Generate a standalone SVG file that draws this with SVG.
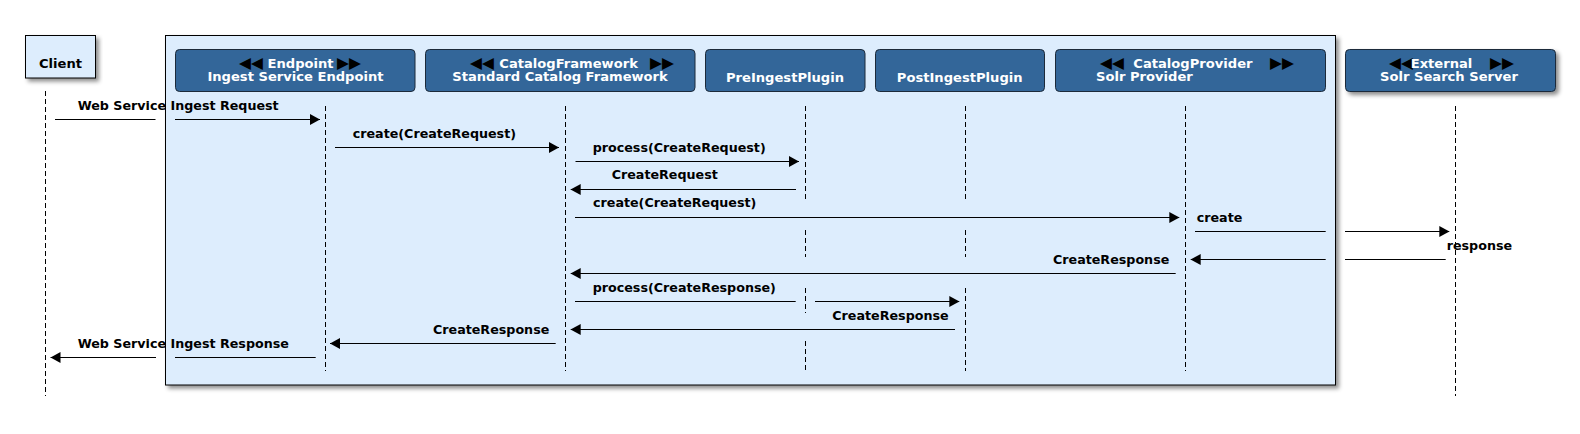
<svg xmlns="http://www.w3.org/2000/svg" width="1580" height="434" viewBox="0 0 1580 434">
<style>
.lbl{font-family:"DejaVu Sans","Liberation Sans",sans-serif;font-weight:bold;font-size:12.7px;fill:#000}
.hdr{font-family:"DejaVu Sans","Liberation Sans",sans-serif;font-weight:bold;font-size:13.1px;fill:#fff}
.tri{fill:#000;font-weight:normal;font-size:15.5px}
.box{fill:#336699;stroke:#1c2a3a;stroke-width:1}
.life{stroke:#000;stroke-width:1;stroke-dasharray:5,3;fill:none}
.msg{stroke:#000;stroke-width:1;fill:none}
.arr{stroke:#000;stroke-width:1;fill:none;marker-end:url(#ah)}
</style>
<defs>
<filter id="sh" x="-5%" y="-5%" width="115%" height="125%">
<feDropShadow dx="3" dy="3" stdDeviation="2" flood-color="#000" flood-opacity="0.45"/>
</filter>
<marker id="ah" markerUnits="userSpaceOnUse" markerWidth="10" markerHeight="12" refX="10" refY="6" orient="auto">
<path d="M0,0.5 L10,6 L0,11.5 z" fill="#000"/>
</marker>
</defs>
<rect x="0" y="0" width="1580" height="434" fill="#fff"/>
<g id="frame">
<rect x="165.5" y="35.5" width="1170" height="349.5" fill="#ddedfd" stroke="#000" stroke-width="1" filter="url(#sh)"/>
</g>
<g id="client">
<rect x="25.5" y="35.5" width="70" height="42.5" fill="#ddedfd" stroke="#000" stroke-width="1" filter="url(#sh)"/>
<text class="lbl" style="font-size:13.1px" x="60.5" y="67.5" text-anchor="middle">Client</text>
<line class="life" x1="45.5" y1="91" x2="45.5" y2="396"/>
</g>
<g id="endpoint">
<rect class="box" x="175.5" y="49.5" width="239.5" height="42" rx="4"/>
<text class="hdr" y="68"><tspan class="tri" x="239">◀◀</tspan><tspan x="267.5">Endpoint</tspan><tspan class="tri" x="337">▶▶</tspan></text>
<text class="hdr" x="295.5" y="81" text-anchor="middle">Ingest Service Endpoint</text>
<line class="life" x1="325.5" y1="106" x2="325.5" y2="371"/>
</g>
<g id="catalogframework">
<rect class="box" x="425.5" y="49.5" width="269.5" height="42" rx="4"/>
<text class="hdr" y="68"><tspan class="tri" x="470">◀◀</tspan><tspan x="499.3">CatalogFramework</tspan><tspan class="tri" x="650">▶▶</tspan></text>
<text class="hdr" x="560" y="81" text-anchor="middle">Standard Catalog Framework</text>
<line class="life" x1="565.5" y1="106" x2="565.5" y2="371"/>
</g>
<g id="preingest">
<rect class="box" x="705.5" y="49.5" width="159.5" height="42" rx="4"/>
<text class="hdr" x="785" y="81.5" text-anchor="middle">PreIngestPlugin</text>
<path class="life" d="M805.5,106 V200 M805.5,230 V257 M805.5,288 V313 M805.5,341 V371"/>
</g>
<g id="postingest">
<rect class="box" x="875.5" y="49.5" width="169" height="42" rx="4"/>
<text class="hdr" x="959.7" y="81.5" text-anchor="middle">PostIngestPlugin</text>
<path class="life" d="M965.5,106 V200 M965.5,230 V257 M965.5,288 V371"/>
</g>
<g id="catalogprovider">
<rect class="box" x="1055.5" y="49.5" width="270" height="42" rx="4"/>
<text class="hdr" y="68"><tspan class="tri" x="1100">◀◀</tspan><tspan x="1133.3">CatalogProvider</tspan><tspan class="tri" x="1270">▶▶</tspan></text>
<text class="hdr" x="1096" y="81">Solr Provider</text>
<line class="life" x1="1185.5" y1="106" x2="1185.5" y2="371"/>
</g>
<g id="external">
<rect class="box" x="1345.5" y="49.5" width="210" height="42" rx="4" filter="url(#sh)"/>
<text class="hdr" y="68"><tspan class="tri" x="1389">◀◀</tspan><tspan x="1410.7">External</tspan><tspan class="tri" x="1490">▶▶</tspan></text>
<text class="hdr" x="1449" y="81" text-anchor="middle">Solr Search Server</text>
<line class="life" x1="1455.5" y1="106" x2="1455.5" y2="396"/>
</g>
<g id="connectors">
<line class="msg" x1="55" y1="119.5" x2="155.5" y2="119.5"/>
<line class="arr" x1="175" y1="119.5" x2="320" y2="119.5"/>
<text class="lbl" x="77.7" y="110">Web Service Ingest Request</text>

<line class="arr" x1="335" y1="147.5" x2="559" y2="147.5"/>
<text class="lbl" x="352.7" y="137.5">create(CreateRequest)</text>

<line class="arr" x1="575.5" y1="161.5" x2="799" y2="161.5"/>
<text class="lbl" x="592.7" y="151.7">process(CreateRequest)</text>

<line class="arr" x1="796" y1="189.5" x2="570.7" y2="189.5"/>
<text class="lbl" x="611.7" y="179.3">CreateRequest</text>

<line class="arr" x1="575" y1="217.5" x2="1179.3" y2="217.5"/>
<text class="lbl" x="593" y="207">create(CreateRequest)</text>

<line class="msg" x1="1195" y1="231.5" x2="1325.7" y2="231.5"/>
<line class="arr" x1="1345" y1="231.5" x2="1449.3" y2="231.5"/>
<text class="lbl" x="1196.7" y="221.7">create</text>

<line class="msg" x1="1445.7" y1="259.5" x2="1345" y2="259.5"/>
<line class="arr" x1="1325.7" y1="259.5" x2="1190.7" y2="259.5"/>
<text class="lbl" x="1446.7" y="250">response</text>

<line class="arr" x1="1175.7" y1="273.5" x2="570.7" y2="273.5"/>
<text class="lbl" x="1169.3" y="264" text-anchor="end">CreateResponse</text>

<line class="msg" x1="575" y1="301.5" x2="795.7" y2="301.5"/>
<line class="arr" x1="815" y1="301.5" x2="959.3" y2="301.5"/>
<text class="lbl" x="592.7" y="291.7">process(CreateResponse)</text>

<line class="arr" x1="955" y1="329.5" x2="570.7" y2="329.5"/>
<text class="lbl" x="832.3" y="319.5">CreateResponse</text>

<line class="arr" x1="555.7" y1="343.5" x2="330" y2="343.5"/>
<text class="lbl" x="549.3" y="333.5" text-anchor="end">CreateResponse</text>

<line class="msg" x1="315.7" y1="357.5" x2="175" y2="357.5"/>
<line class="arr" x1="156" y1="357.5" x2="50.5" y2="357.5"/>
<text class="lbl" x="77.7" y="347.5">Web Service Ingest Response</text>
</g>
</svg>
